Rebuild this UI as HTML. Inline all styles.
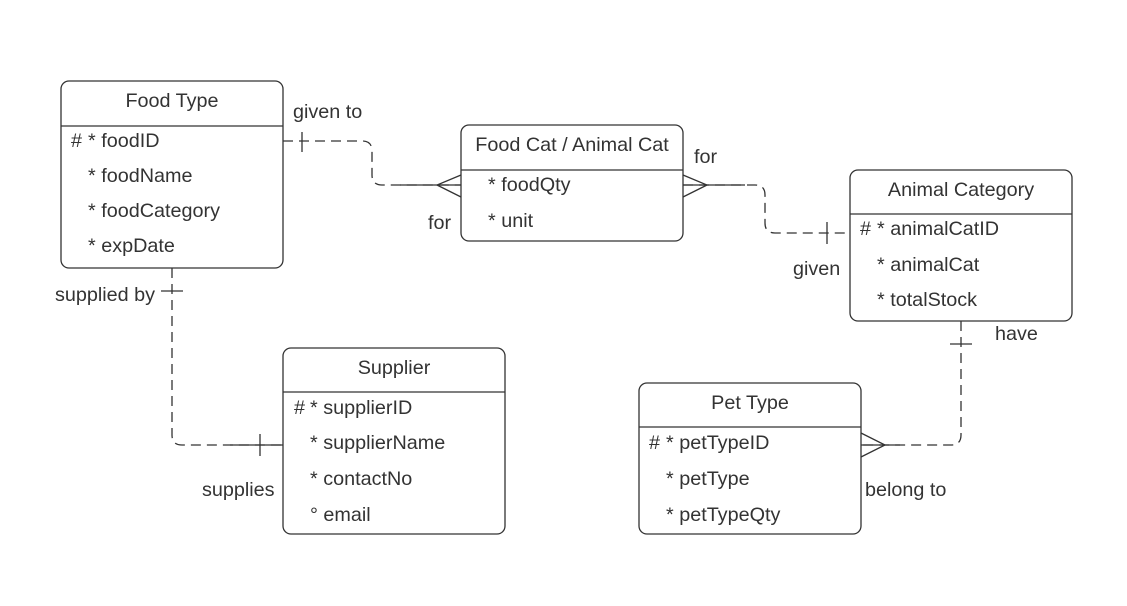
<!DOCTYPE html>
<html><head><style>body{margin:0;background:#fff}svg{display:block}text{font-family:"Liberation Sans",sans-serif;font-size:19.8px;fill:#333}</style></head><body>
<svg width="1127" height="606" viewBox="0 0 1127 606">
<g fill="#fff" stroke="#333" stroke-width="1.3">
<rect x="61" y="81" width="222" height="187" rx="8"/><line x1="61" y1="126" x2="283" y2="126"/>
<rect x="461" y="125" width="222" height="116" rx="8"/><line x1="461" y1="170" x2="683" y2="170"/>
<rect x="850" y="170" width="222" height="151" rx="8"/><line x1="850" y1="214" x2="1072" y2="214"/>
<rect x="283" y="348" width="222" height="186" rx="8"/><line x1="283" y1="392" x2="505" y2="392"/>
<rect x="639" y="383" width="222" height="151" rx="8"/><line x1="639" y1="427" x2="861" y2="427"/>
</g>
<g fill="none" stroke="#333" stroke-width="1.3">
<path d="M283 141 H362 Q372 141 372 151 V175 Q372 185 382 185 H461" stroke-dasharray="10 6"/>
<path d="M400 185 H461"/><line x1="302" y1="132" x2="302" y2="152"/>
<path d="M461 175 L437 185 L461 197"/>
<path d="M683 185 H755 Q765 185 765 195 V223 Q765 233 775 233 H850" stroke-dasharray="10 6"/>
<path d="M683 185 H745"/><line x1="827" y1="222" x2="827" y2="244"/>
<path d="M683 175 L707 185 L683 197"/>
<path d="M172 268 V435 Q172 445 182 445 H283" stroke-dasharray="10 6"/>
<path d="M230 445 H283"/><line x1="161" y1="291" x2="183" y2="291"/><line x1="260" y1="434" x2="260" y2="456"/>
<path d="M961 321 V435 Q961 445 951 445 H861" stroke-dasharray="10 6"/>
<path d="M861 445 H900"/><line x1="950" y1="344" x2="972" y2="344"/>
<path d="M861 433 L885 445 L861 457"/>
</g>
<text x="172" y="107" text-anchor="middle">Food Type</text>
<text x="71" y="147">#</text><text x="88" y="147">* foodID</text>
<text x="88" y="182">* foodName</text><text x="88" y="217">* foodCategory</text><text x="88" y="252">* expDate</text>
<text x="572" y="151" text-anchor="middle">Food Cat / Animal Cat</text>
<text x="488" y="191">* foodQty</text><text x="488" y="227">* unit</text>
<text x="961" y="196" text-anchor="middle">Animal Category</text>
<text x="860" y="235">#</text><text x="877" y="235">* animalCatID</text>
<text x="877" y="271">* animalCat</text><text x="877" y="306">* totalStock</text>
<text x="394" y="374" text-anchor="middle">Supplier</text>
<text x="294" y="414">#</text><text x="310" y="414">* supplierID</text>
<text x="310" y="449">* supplierName</text><text x="310" y="485">* contactNo</text><text x="310" y="521">° email</text>
<text x="750" y="409" text-anchor="middle">Pet Type</text>
<text x="649" y="449">#</text><text x="666" y="449">* petTypeID</text>
<text x="666" y="485">* petType</text><text x="666" y="521">* petTypeQty</text>
<text x="293" y="118">given to</text><text x="428" y="229">for</text><text x="694" y="163">for</text>
<text x="793" y="275">given</text><text x="55" y="301">supplied by</text><text x="202" y="496">supplies</text>
<text x="995" y="340">have</text><text x="865" y="496">belong to</text>
</svg></body></html>
